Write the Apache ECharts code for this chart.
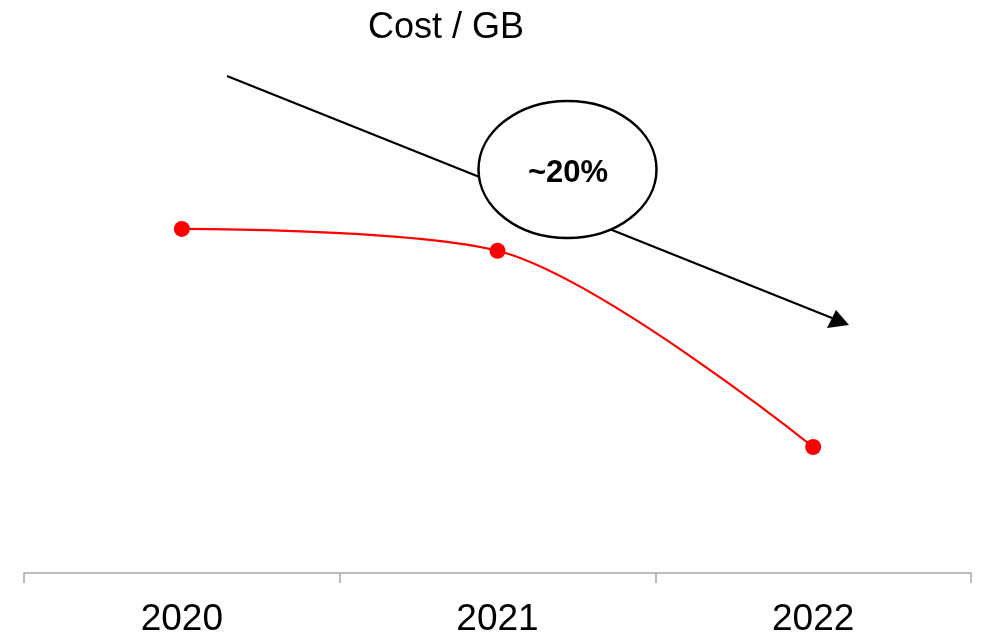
<!DOCTYPE html>
<html>
<head>
<meta charset="utf-8">
<script src="https://cdn.jsdelivr.net/npm/echarts@6/dist/echarts.min.js"></script>
<style>
html,body{margin:0;padding:0;background:#fff;}
#chart{width:987px;height:640px;}
</style>
</head>
<body>
<div id="chart"></div>
<script>
var categories = ['2020', '2021', '2022'];
var costPerGB = [69.1, 64.7, 25.3];
var titleText = 'Cost / GB';
var calloutText = '~20%';

var chart = echarts.init(document.getElementById('chart'));
var option = {
  animation: false,
  backgroundColor: '#ffffff',
  title: {
    text: titleText,
    left: 363,
    top: 5,
    textStyle: { fontFamily: 'Liberation Sans, Arial, sans-serif', fontSize: 36, fontWeight: 'normal', color: '#000' }
  },
  grid: { left: 24, right: 16, top: 75, bottom: 67 },
  xAxis: {
    type: 'category',
    data: categories,
    boundaryGap: true,
    axisLine: { lineStyle: { color: '#a6a6a6', width: 1.5 } },
    axisTick: { show: true, length: 10, lineStyle: { color: '#a6a6a6', width: 1.5 } },
    axisLabel: { fontFamily: 'Liberation Sans, Arial, sans-serif', fontSize: 37, color: '#000', margin: 28 }
  },
  yAxis: {
    type: 'value', min: 0, max: 100, show: false,
    splitLine: { show: false }
  },
  series: [{
    type: 'line',
    data: costPerGB,
    smooth: 0.3,
    symbol: 'circle',
    symbolSize: 16,
    itemStyle: { color: '#ff0000' },
    lineStyle: { color: '#ff0000', width: 2.2 }
  }],
  graphic: [
    {
      type: 'line',
      shape: { x1: 227, y1: 76, x2: 832, y2: 318 },
      style: { stroke: '#000', lineWidth: 2.2 },
      z: 10
    },
    {
      type: 'polygon',
      shape: { points: [[849, 325], [827, 328], [836, 310]] },
      style: { fill: '#000' },
      z: 10
    },
    {
      type: 'ellipse',
      shape: { cx: 567.5, cy: 169.5, rx: 89, ry: 68.5 },
      style: { fill: '#fff', stroke: '#000', lineWidth: 2.5 },
      z: 11
    },
    {
      type: 'text',
      x: 568, y: 173,
      style: { text: calloutText, fontFamily: 'Liberation Sans, Arial, sans-serif', fontSize: 31, fontWeight: 'bold', fill: '#000', align: 'center', verticalAlign: 'middle' },
      z: 12
    }
  ]
};
chart.setOption(option);
</script>
</body>
</html>
